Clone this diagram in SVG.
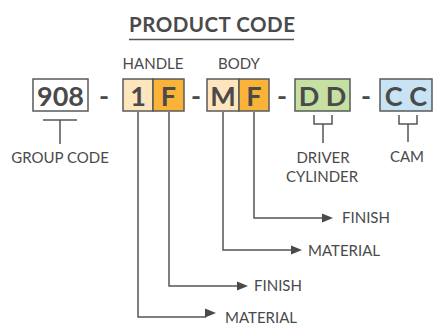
<svg xmlns="http://www.w3.org/2000/svg" width="434" height="333" viewBox="0 0 434 333">
<style>
.t{font-family:Lato,"Open Sans","Liberation Sans",sans-serif;fill:#4a4a4a}
.lbl{font-size:15px}
.big{font-size:27px;font-weight:bold;text-anchor:middle}
.title{font-size:20.5px;font-weight:bold;letter-spacing:0.5px}
.box{stroke:#5a5a5a;stroke-width:1.5}
.ln{fill:none;stroke:#555;stroke-width:1.5}
.ah{fill:#4a4a4a}
</style>
<rect width="434" height="333" fill="#fff"/>
<g id="title">
<text class="t title" x="129" y="32">PRODUCT CODE</text>
<line x1="129" y1="39.5" x2="294" y2="39.5" stroke="#555" stroke-width="1.5"/>
</g>
<g id="group">
<rect class="box" x="33" y="79" width="55" height="32" fill="#fff"/>
<text class="t big" x="60.5" y="106">908</text>
</g>
<text class="t big" x="104" y="106">-</text>
<g id="handle">
<text class="t lbl" x="153" y="69" text-anchor="middle">HANDLE</text>
<rect class="box" x="123" y="79" width="30" height="32" fill="#fde5bd"/>
<text class="t big" x="138" y="106">1</text>
<rect class="box" x="153" y="79" width="31" height="32" fill="#f9b338"/>
<text class="t big" x="168.5" y="106">F</text>
</g>
<text class="t big" x="196" y="106">-</text>
<g id="body">
<text class="t lbl" x="239" y="69" text-anchor="middle">BODY</text>
<rect class="box" x="207" y="79" width="32" height="32" fill="#fde5bd"/>
<text class="t big" x="223" y="106">M</text>
<rect class="box" x="239" y="79" width="30" height="32" fill="#f9b338"/>
<text class="t big" x="254" y="106">F</text>
</g>
<text class="t big" x="282" y="106">-</text>
<g id="driver">
<rect class="box" x="295" y="79" width="55" height="32" fill="#c6e0a2"/>
<text class="t big" x="322.5" y="106">D D</text>
</g>
<text class="t big" x="366" y="106">-</text>
<g id="cam">
<rect class="box" x="380" y="79" width="52" height="32" fill="#c7e3f4"/>
<text class="t big" x="406" y="106">C C</text>
</g>
<g id="connectors">
<path class="ln" d="M43 120H77M60 120V144"/>
<path class="ln" d="M314 115V124H332V115M323 124V143"/>
<path class="ln" d="M399 115V124H417V115M408 124V142"/>
<path class="ln" d="M254 112V218H322"/>
<polygon class="ah" points="322,213.5 333,218 322,222.5"/>
<path class="ln" d="M223 112V250H292"/>
<polygon class="ah" points="291,245.5 302,250 291,254.5"/>
<path class="ln" d="M169 112V286H238"/>
<polygon class="ah" points="237,281.5 248,286 237,290.5"/>
<path class="ln" d="M138 112V317H206"/>
<polygon class="ah" points="205,308.5 216,313 205,317.5"/>
</g>
<g id="labels">
<text class="t lbl" x="60" y="163" text-anchor="middle">GROUP CODE</text>
<text class="t lbl" x="323" y="163" text-anchor="middle">DRIVER</text>
<text class="t lbl" x="322" y="182" text-anchor="middle">CYLINDER</text>
<text class="t lbl" x="407" y="162" text-anchor="middle">CAM</text>
<text class="t lbl" x="342" y="223">FINISH</text>
<text class="t lbl" x="308" y="256">MATERIAL</text>
<text class="t lbl" x="254" y="291">FINISH</text>
<text class="t lbl" x="225" y="323">MATERIAL</text>
</g>
</svg>
